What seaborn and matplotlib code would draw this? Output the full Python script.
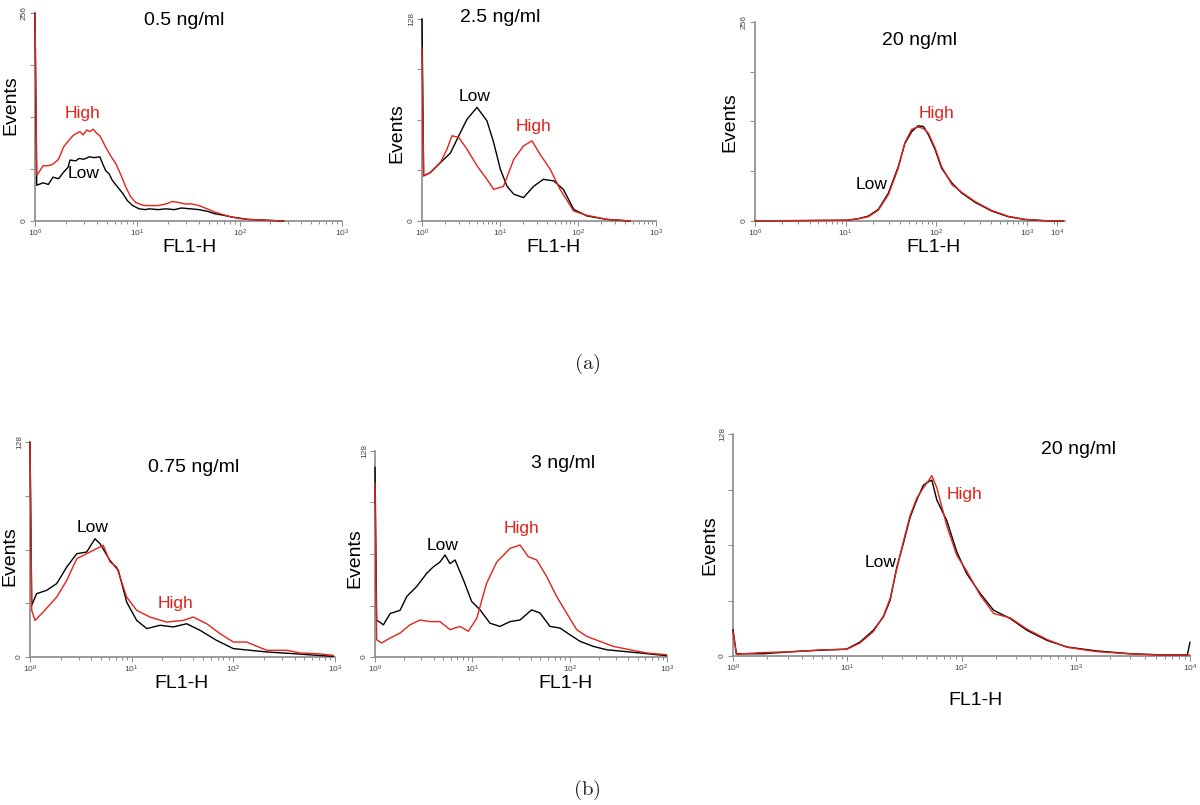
import matplotlib
matplotlib.use("Agg")
import matplotlib.pyplot as plt
from matplotlib.ticker import FixedLocator, FixedFormatter, LogLocator, NullFormatter
import seaborn as sns

sns.set_theme(style="ticks")
plt.rcParams['font.family'] = ['Liberation Sans', 'DejaVu Sans']
plt.rcParams['mathtext.default'] = 'regular'

# ---------------- data (FL1-H value, Events) ----------------
# (a) 0.5 ng/ml
a1_low_x = [1.0, 1.04, 1.2, 1.35, 1.5, 1.7, 1.9, 2.1, 2.2, 2.5, 2.7, 3.0, 3.4, 3.8, 4.3, 4.6, 4.9, 5.3, 5.7, 6.4, 7.2, 8.0, 9.0, 10.4, 12, 13, 16, 19, 23, 27, 33, 40, 48, 57, 70, 83, 120, 175, 270]
a1_low_y = [256, 44, 47, 45, 54, 52, 60, 66, 75, 74, 77, 76, 79, 78, 79, 70, 62, 58, 50, 42, 34, 25, 19, 15, 14, 15, 14, 15, 14, 16, 15, 14, 12, 9, 7, 5, 2, 1, 0]
a1_high_x = [1.0, 1.04, 1.2, 1.35, 1.5, 1.7, 1.9, 2.1, 2.35, 2.55, 2.75, 2.95, 3.2, 3.45, 3.7, 4.0, 4.3, 4.6, 4.9, 5.5, 6.2, 7.0, 7.7, 8.6, 9.6, 11, 12, 14, 16, 19, 22, 25, 29, 34, 40, 48, 57, 68, 83, 100, 120, 175, 270]
a1_high_y = [256, 56, 68, 68, 70, 76, 91, 98, 105, 108, 110, 106, 112, 110, 113, 108, 105, 98, 91, 80, 70, 55, 42, 30, 23, 20, 19, 19, 19, 21, 24, 23, 21, 21, 19, 15, 11, 8, 5, 3, 2, 1, 0]

# (a) 2.5 ng/ml
a2_low_x = [1.0, 1.05, 1.28, 1.72, 2.31, 3.1, 3.78, 5.07, 6.8, 8.3, 10.1, 12.3, 15, 20, 27, 36, 49, 65, 88, 130, 235, 469]
a2_low_y = [128, 28.6, 30.7, 37, 43, 56, 64.5, 72, 63.5, 49.7, 32.8, 22, 17, 14.8, 22, 26.4, 25.4, 20, 7.4, 3.2, 1, 0]
a2_high_x = [1.0, 1.05, 1.28, 1.72, 2.09, 2.42, 2.95, 3.78, 5.07, 6.8, 8.3, 11.1, 15, 20, 25.7, 32.9, 44, 59, 88, 130, 235, 469]
a2_high_y = [110, 28.6, 30.7, 37, 45.5, 54, 53, 45.5, 35, 26.4, 20, 22, 39, 47.6, 50.8, 42, 32.8, 20, 6.3, 3.6, 1, 0]

# (a) 20 ng/ml
a3_x = [1.0, 3.0, 6.0, 10.4, 13.8, 17.8, 22.9, 29.6, 38, 45, 53.5, 63, 72, 81.6, 96.7, 114, 148, 190, 267, 408, 622, 950, 1585, 2500]
a3_low_y = [0.3, 0.5, 0.8, 1, 3, 6.4, 15, 36, 70, 100, 115, 122.5, 121.6, 111, 92, 68, 49, 36, 24, 12.8, 5.5, 2, 0.4, 0]
a3_high_y = [0.3, 0.5, 0.8, 1, 3, 5.5, 14, 34, 68, 101, 118, 121, 119, 113, 94, 70, 47, 37, 25, 13.5, 6, 2, 0.4, 0]

# (b) 0.75 ng/ml
b1_low_x = [1.0, 1.04, 1.16, 1.46, 1.83, 2.3, 2.88, 3.61, 4.36, 4.88, 6.12, 7.39, 8.93, 11.2, 14.1, 19, 25.7, 34.7, 47, 68.5, 100, 146, 213, 389, 660, 964]
b1_low_y = [128, 30.8, 37.7, 39.7, 43.7, 53.6, 61.5, 62.5, 70.4, 67.5, 57.5, 51.6, 32.7, 21.8, 16.9, 18.9, 17.9, 19.8, 15.9, 9.9, 5, 4, 3, 2, 1, 0.4]
b1_high_x = [1.0, 1.04, 1.12, 1.35, 1.83, 2.3, 2.88, 3.61, 4.53, 5.26, 6.12, 7.12, 8.93, 11.2, 15.1, 22.1, 32.2, 40.4, 54.7, 74, 100, 135, 213, 335, 453, 660, 964]
b1_high_y = [128, 27.8, 21.8, 26.8, 35.7, 45.6, 58.5, 61.5, 64.5, 66.5, 56.6, 53.6, 35.7, 27.8, 23.8, 20.8, 21.8, 23.8, 19.8, 13.9, 8.9, 8.9, 4, 4, 2.4, 2, 1]

# (b) 3 ng/ml
b2_low_x = [1.0, 1.04, 1.22, 1.43, 1.81, 2.12, 2.68, 3.4, 3.97, 4.65, 5.24, 5.9, 6.64, 8.09, 9.84, 12, 15.2, 19.2, 24.4, 30.9, 40.7, 49.6, 62.8, 79.6, 100.7, 128, 175, 240, 356, 528, 993]
b2_low_y = [118, 23, 20, 27, 29, 37.6, 43.8, 52, 56, 59, 63.4, 58, 60.3, 48, 34.5, 29.3, 21, 19, 22, 23, 29.3, 27.3, 19, 18, 13.8, 9.7, 6.6, 4.5, 3.5, 2.5, 0.8]
b2_high_x = [1.0, 1.04, 1.17, 1.43, 1.81, 2.29, 2.9, 3.67, 4.65, 5.9, 7.47, 9.1, 11.1, 14, 17.8, 24.4, 30.9, 37.6, 45.8, 58, 73.5, 93, 118, 150, 205, 281, 417, 618, 993]
b2_high_y = [108, 10.7, 8.7, 11.8, 14.9, 20, 23, 22, 22, 17, 19, 16, 24, 45.8, 59, 67.5, 69.6, 62.3, 60.3, 50, 37.6, 27.3, 17, 12.8, 9.7, 6.6, 4.5, 2.5, 1.4]

# (b) 20 ng/ml
b3_x = [1.0, 1.07, 1.83, 3.6, 5.75, 9.87, 12.9, 16.9, 20.7, 23.7, 27.1, 31, 35.5, 40.6, 46.4, 51.4, 55, 60.8, 74.4, 91, 111, 146, 191, 267, 374, 561, 839, 1538, 3020, 5916, 9480, 10000]
b3_low_y = [15.2, 1.3, 1.3, 2.7, 3.3, 4, 8, 14.8, 22.5, 32, 51, 65, 80, 90, 98.5, 100.5, 101.4, 90, 78, 60, 47.5, 36, 26.4, 21.6, 14.8, 9, 5.2, 2.9, 1.3, 0.6, 0.6, 8]
b3_high_y = [14, 1, 2, 2.5, 3.5, 3.8, 7.5, 14, 23, 33, 50, 66, 81, 91, 97, 101, 104, 97, 75, 58, 49, 35, 24.5, 22, 15.5, 9.5, 5, 2.5, 1.2, 0.5, 0.5, 0.5]

titles = ['0.5 ng/ml', '2.5 ng/ml', '20 ng/ml', '0.75 ng/ml', '3 ng/ml', '20 ng/ml']
decade_labels = [r'$10^0$', r'$10^1$', r'$10^2$', r'$10^3$', r'$10^4$']

# ---------------- layout ----------------
W, H = 1200, 805
RED = '#e2231a'
SPINE = '#8a8a8a'

panels = [
    dict(low=(a1_low_x, a1_low_y), high=(a1_high_x, a1_high_y), title=titles[0],
         rect=(35, 13, 342, 221), xmax=1000, ymax=256,
         ticks=[1, 10, 100, 1000], tpos=(29, 247), lpos=(3.0, 58), hpos=(2.9, 132),
         ev=(11, 105), fl=(190, 248)),
    dict(low=(a2_low_x, a2_low_y), high=(a2_high_x, a2_high_y), title=titles[1],
         rect=(422, 19, 656, 221), xmax=1000, ymax=128,
         ticks=[1, 10, 100, 1000], tpos=(10, 129), lpos=(4.7, 79), hpos=(26.5, 60),
         ev=(397, 133), fl=(553, 248)),
    dict(low=(a3_x, a3_low_y), high=(a3_x, a3_high_y), title=titles[2],
         rect=(755, 22, 1065, 221), xmax=10 ** 3.418, ymax=256,
         ticks=[1, 10, 100, 1000, 10 ** 3.33], tpos=(65, 232), lpos=(19.5, 47), hpos=(100, 138),
         ev=(730, 122), fl=(934, 248)),
    dict(low=(b1_low_x, b1_low_y), high=(b1_high_x, b1_high_y), title=titles[3],
         rect=(30, 442, 335, 657), xmax=1000, ymax=128,
         ticks=[1, 10, 100, 1000], tpos=(41, 113), lpos=(4.1, 77), hpos=(27, 32),
         ev=(10, 556), fl=(181, 683)),
    dict(low=(b2_low_x, b2_low_y), high=(b2_high_x, b2_high_y), title=titles[4],
         rect=(375, 451, 667, 657), xmax=1000, ymax=128,
         ticks=[1, 10, 100, 1000], tpos=(85, 120), lpos=(5.0, 69), hpos=(32, 80),
         ev=(355, 558), fl=(565, 683)),
    dict(low=(b3_x, b3_low_y), high=(b3_x, b3_high_y), title=titles[5],
         rect=(733, 434, 1190, 656), xmax=10000, ymax=128,
         ticks=[1, 10, 100, 1000, 10000], tpos=(1050, 119), lpos=(19.4, 54), hpos=(107, 93),
         ev=(710, 545), fl=(975, 700)),
]

fig = plt.figure(figsize=(W / 100, H / 100), dpi=100)
fig.patch.set_facecolor('white')

for p in panels:
    l, t, r, b = p['rect']
    ax = fig.add_axes([l / W, 1 - b / H, (r - l) / W, (b - t) / H])
    ax.set_facecolor('white')
    sns.lineplot(x=p['low'][0], y=p['low'][1], color='black', lw=1.0, ax=ax,
                 estimator=None, zorder=3, clip_on=False)
    sns.lineplot(x=p['high'][0], y=p['high'][1], color=RED, lw=1.0, ax=ax,
                 estimator=None, zorder=3, clip_on=False)
    ax.set_xscale('log')
    ax.set_xlim(1, p['xmax'])
    ax.set_ylim(0, p['ymax'])
    ax.xaxis.set_major_locator(FixedLocator(p['ticks']))
    ax.xaxis.set_major_formatter(FixedFormatter(decade_labels[:len(p['ticks'])]))
    ax.xaxis.set_minor_locator(LogLocator(base=10, subs=range(2, 10), numticks=20))
    ax.xaxis.set_minor_formatter(NullFormatter())
    yt = [p['ymax'] * k / 4 for k in range(5)]
    ax.yaxis.set_major_locator(FixedLocator(yt))
    ax.yaxis.set_major_formatter(FixedFormatter(['0', '', '', '', str(p['ymax'])]))
    ax.tick_params(axis='both', which='both', direction='out', color=SPINE,
                   labelsize=6, labelcolor='#444444', pad=1.5, width=0.7,
                   bottom=True, left=True, top=False, right=False)
    ax.tick_params(axis='both', which='major', length=3.5)
    ax.tick_params(axis='x', which='minor', length=2.5)
    ax.tick_params(axis='y', labelrotation=90)
    for lab in ax.get_yticklabels():
        lab.set_va('center')
    sns.despine(ax=ax)
    for s in ('left', 'bottom'):
        ax.spines[s].set_color(SPINE)
        ax.spines[s].set_linewidth(1.2)
    ax.set_xlabel('FL1-H', fontsize=14, color='black')
    ax.set_ylabel('Events', fontsize=14, color='black')
    ax.xaxis.label.set_va('center')
    ax.yaxis.label.set_va('center')
    ax.xaxis.set_label_coords(p['fl'][0] / W, 1 - p['fl'][1] / H, transform=fig.transFigure)
    ax.yaxis.set_label_coords(p['ev'][0] / W, 1 - p['ev'][1] / H, transform=fig.transFigure)
    ax.text(p['tpos'][0], p['tpos'][1], p['title'], fontsize=14, ha='center', va='center', color='black')
    ax.text(p['lpos'][0], p['lpos'][1], 'Low', fontsize=12.5, ha='center', va='center', color='black')
    ax.text(p['hpos'][0], p['hpos'][1], 'High', fontsize=12.5, ha='center', va='center', color=RED)

fig.text(587 / W, 1 - 364 / H, r'$\mathrm{(a)}$', math_fontfamily='cm', fontsize=15, ha='center', va='center')
fig.text(587 / W, 1 - 790 / H, r'$\mathrm{(b)}$', math_fontfamily='cm', fontsize=15, ha='center', va='center')

fig.savefig('out.png', dpi=100, facecolor='white')
